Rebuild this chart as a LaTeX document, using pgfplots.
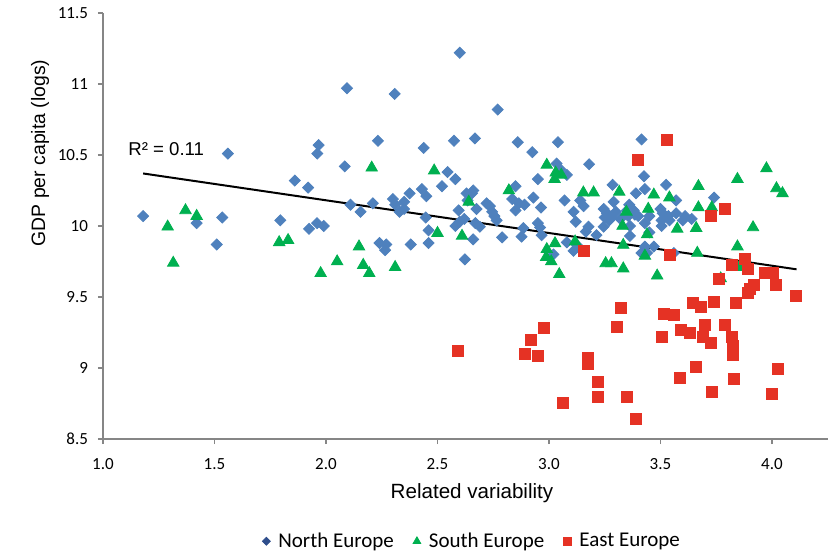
\documentclass[border=0pt]{standalone}
\usepackage{pgfplots}
\pgfplotsset{compat=1.18}
\usepackage{fontspec}
\setmainfont{Carlito}
\newfontfamily\arialf{Liberation Sans}
\definecolor{nblue}{RGB}{79,129,189}
\definecolor{sgreen}{RGB}{0,176,80}
\definecolor{ered}{RGB}{229,50,36}
\definecolor{legblue}{RGB}{47,78,140}
\definecolor{axgray}{RGB}{134,134,134}

\begin{document}
\begin{tikzpicture}
\useasboundingbox (-51.5pt,-57pt) rectangle (366.5pt,219.5pt);
\begin{axis}[
  at={(0pt,0pt)}, anchor=south west,
  scale only axis,
  width=362.375pt, height=213pt,
  xmin=1, xmax=4.25, ymin=8.5, ymax=11.5,
  axis x line*=bottom, axis y line*=left,
  axis line style={axgray, line width=0.6pt},
  xtick={1,1.5,2,2.5,3,3.5,4},
  ytick={8.5,9,9.5,10,10.5,11,11.5},
  tick align=outside, major tick length=2.5pt,
  tick style={axgray, line width=0.6pt},
  /pgf/number format/assume math mode=true,
  tick label style={font=\fontsize{8.5}{10}\selectfont},
  x tick label style={yshift=-3.5pt, /pgf/number format/fixed, /pgf/number format/fixed zerofill, /pgf/number format/precision=1},
  y tick label style={xshift=-1.5pt},
  legend style={at={(0.51,-0.24)}, anchor=center, draw=none, fill=none,
    legend columns=3, font=\fontsize{10.5}{12}\selectfont, inner sep=0pt,
    /tikz/every even column/.append style={column sep=7pt}},
  legend image code/.code={\path[draw=none, fill=none] (0pt,0pt) -- (6.5pt,0pt); \draw[#1] plot coordinates {(2.5pt,0pt)};},
]
% North Europe
\addplot[forget plot, only marks, mark=square*, mark size=1.95pt,
  mark options={rotate=45, fill=nblue, draw=nblue}] coordinates {
(1.18,10.07) (1.42,10.02) (1.535,10.06) (1.51,9.87) (1.56,10.51) (1.795,10.04)
(1.86,10.32) (1.92,10.27) (1.924,9.98) (1.96,10.02) (1.99,10.00) (1.961,10.51)
(1.967,10.57) (2.084,10.42) (2.094,10.97) (2.11,10.15) (2.155,10.10) (2.21,10.16)
(2.233,10.60) (2.24,9.88) (2.265,9.83) (2.27,9.87) (2.30,10.19) (2.308,10.93)
(2.31,10.15) (2.33,10.10) (2.35,10.17) (2.35,10.12) (2.375,10.23) (2.38,9.87)
(2.43,10.26) (2.438,10.55) (2.447,10.06) (2.45,10.21) (2.46,9.97) (2.46,9.88)
(2.52,10.28) (2.545,10.38) (2.574,10.60) (2.58,10.33) (2.58,10.00) (2.595,10.11)
(2.60,11.22) (2.60,10.03) (2.62,10.05) (2.623,9.765) (2.63,10.23) (2.655,10.23)
(2.635,10.18) (2.66,10.25) (2.66,9.906) (2.668,10.617) (2.67,10.02) (2.675,10.12)
(2.69,9.995) (2.72,10.16) (2.735,10.14) (2.745,10.10) (2.755,10.07) (2.765,10.04)
(2.77,10.82) (2.79,9.92) (2.835,10.19) (2.85,10.28) (2.85,10.11) (2.86,10.59)
(2.865,10.16) (2.877,9.925) (2.885,9.985) (2.89,10.15) (2.925,10.52) (2.93,10.20)
(2.95,10.33) (2.95,10.02) (2.96,9.99) (2.964,10.13) (2.967,9.935) (3.02,9.80)
(3.034,10.44) (3.04,10.59) (3.05,10.40) (3.07,10.18) (3.08,10.36) (3.08,9.885)
(3.11,9.825) (3.125,9.866) (3.11,10.10) (3.12,10.03) (3.14,10.18) (3.155,10.14)
(3.165,9.96) (3.177,9.995) (3.18,10.435) (3.213,9.936) (3.245,9.995) (3.245,10.12)
(3.25,10.06) (3.26,10.09) (3.27,10.04) (3.28,10.06) (3.285,10.29) (3.29,10.17)
(3.30,10.10) (3.32,10.05) (3.35,10.11) (3.355,10.07) (3.36,10.15) (3.363,10.00)
(3.363,9.93) (3.38,10.11) (3.385,10.08) (3.39,10.23) (3.40,10.07) (3.415,10.61)
(3.415,9.81) (3.426,10.35) (3.43,10.26) (3.43,10.02) (3.43,9.855) (3.44,9.81)
(3.45,10.07) (3.45,9.955) (3.47,9.855) (3.50,10.12) (3.505,10.04) (3.505,10.00)
(3.51,10.09) (3.525,10.29) (3.535,10.07) (3.54,10.04) (3.56,9.81) (3.57,10.18)
(3.57,10.09) (3.60,10.04) (3.61,10.07) (3.64,10.05) (3.74,10.20)
};
% South Europe
\addplot[forget plot, only marks, mark=triangle*, mark size=3.3pt,
  mark options={fill=sgreen, draw=sgreen}] coordinates {
(1.29,9.995) (1.315,9.74) (1.37,10.11) (1.42,10.07) (1.79,9.885) (1.83,9.90)
(1.976,9.667) (2.05,9.75) (2.148,9.855) (2.167,9.725) (2.194,9.667) (2.205,10.41)
(2.31,9.71) (2.485,10.39) (2.50,9.95) (2.61,9.93) (2.64,10.17) (2.82,10.25)
(2.99,10.43) (3.03,10.375) (3.055,10.36) (3.025,10.33) (2.99,9.836) (3.027,9.878)
(2.987,9.78) (3.01,9.75) (3.046,9.66) (3.117,9.89) (3.154,10.235) (3.20,10.235)
(3.254,9.737) (3.28,9.737) (3.315,10.24) (3.333,9.70) (3.33,10.0) (3.333,9.866)
(3.347,10.10) (3.44,9.94) (3.43,9.79) (3.445,10.12) (3.47,10.22) (3.485,9.65)
(3.54,10.20) (3.575,9.98) (3.665,9.81) (3.66,9.985) (3.67,10.28) (3.67,10.13)
(3.73,10.13) (3.77,9.63) (3.845,10.33) (3.845,9.855) (3.853,9.71) (3.915,9.99)
(3.975,10.405) (4.02,10.265) (4.047,10.23)
};
% East Europe
\addplot[forget plot, only marks, mark=square*, mark size=2.75pt,
  mark options={fill=ered, draw=ered}] coordinates {
(2.59,9.12) (2.89,9.10) (2.92,9.20) (2.95,9.085) (2.978,9.28) (3.064,8.756)
(3.157,9.826) (3.176,9.068) (3.176,9.028) (3.22,8.90) (3.22,8.80) (3.303,9.29)
(3.323,9.42) (3.348,8.80) (3.39,8.64) (3.40,10.465) (3.507,9.22) (3.513,9.38)
(3.53,10.605) (3.54,9.796) (3.56,9.373) (3.585,8.93) (3.59,9.27) (3.63,9.244)
(3.644,9.46) (3.66,9.01) (3.68,9.43) (3.69,9.22) (3.70,9.303) (3.725,10.07)
(3.727,9.174) (3.73,8.833) (3.74,9.467) (3.76,9.63) (3.79,10.12) (3.79,9.303)
(3.82,9.725) (3.82,9.22) (3.823,9.155) (3.823,9.09) (3.83,8.923) (3.838,9.46)
(3.88,9.765) (3.89,9.70) (3.894,9.526) (3.90,9.554) (3.92,9.585) (3.97,9.67)
(4.0,8.817) (4.006,9.67) (4.018,9.585) (4.028,8.993) (4.106,9.507)
};
% linear trend
\addplot[forget plot, black, line width=1pt] coordinates {(1.18,10.37) (4.11,9.695)};

\addlegendimage{only marks, mark=square*, mark size=1.4pt, mark options={rotate=45, fill=legblue, draw=legblue}}
\addlegendentry{North Europe}
\addlegendimage{only marks, mark=triangle*, mark size=2.2pt, mark options={fill=sgreen, draw=sgreen}}
\addlegendentry{South Europe}
\addlegendimage{only marks, mark=square*, mark size=1.9pt, mark options={fill=ered, draw=ered}}
\addlegendentry{East Europe}
\end{axis}
\node[font=\arialf\fontsize{10.3}{12}\selectfont] at (184.5pt,-27pt) {Related variability};
\node[rotate=90, font=\arialf\fontsize{9.7}{12}\selectfont] at (-31.5pt,143pt) {GDP per capita (logs)};
\node[anchor=west, inner sep=0pt, font=\arialf\fontsize{9.3}{11}\selectfont] at (12.5pt,145pt) {R² = 0.11};
\end{tikzpicture}
\end{document}
